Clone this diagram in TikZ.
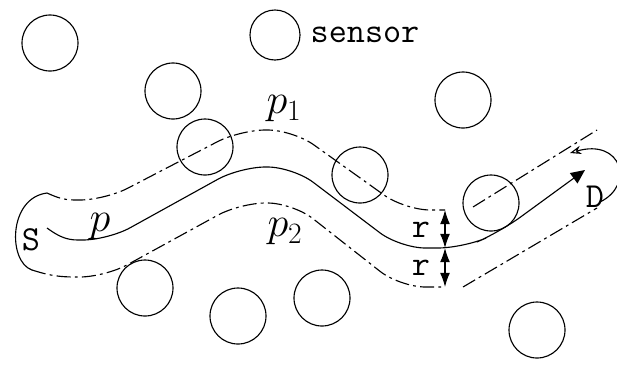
\RequirePackage{fix-cm}
\documentclass[tikz,border=0pt]{standalone}
\usetikzlibrary{arrows.meta}

\begin{document}
\begin{tikzpicture}[
    x=0.025cm, y=-0.025cm,
    sensor/.style={draw, circle, thick, minimum size=1.4cm, inner sep=0pt},
    route/.style={thick},
    bound/.style={route, dash pattern=on 10pt off 3pt on 2pt off 3pt},
    dim/.style={thick, {Latex[length=10pt,width=7pt]}-{Latex[length=10pt,width=7pt]}},
    tlabel/.style={font=\fontsize{25}{27}\selectfont\ttfamily, inner sep=1pt},
    mlabel/.style={font=\fontsize{30}{32}\selectfont, inner sep=1pt}
]
\useasboundingbox (0,0) rectangle (617,364);

% sensors
\node[sensor] (s1) at (50,43) {};
\node[sensor, minimum size=1.25cm] (s2) at (275,35) {};
\node[sensor] (s3) at (173,91) {};
\node[sensor] (s4) at (463,100) {};
\node[sensor] (s5) at (205,147) {};
\node[sensor] (s6) at (360,175) {};
\node[sensor] (s7) at (491,203) {};
\node[sensor] (s8) at (145,288) {};
\node[sensor] (s9) at (238,316) {};
\node[sensor] (s10) at (322,298) {};
\node[sensor] (s11) at (537,330) {};
\node[tlabel, right=6pt] (sensorlbl) at (s2.east) {sensor};

% labels
\node[tlabel] (src) at (31,240) {S};
\node[tlabel] (dst) at (595,197) {D};
\node[mlabel] (plbl) at (100,227) {$p$};
\node[mlabel] (p1lbl) at (284,109) {$p_1$};
\node[mlabel] (p2lbl) at (285,232) {$p_2$};

% path p
\draw[route, -{Triangle[length=10pt,width=9pt]}] (47,228) .. controls (58,236) and (66,240) .. (78,240)
    [rounded corners=18pt] -- (108,240) -- (240,167) -- (293,167) -- (400,248) -- (463,248)
    -- (500,232) -- (585,170);

% paths p1 and p2
\draw[bound] (47,193) .. controls (56,197) and (63,200) .. (75,200)
    [rounded corners=18pt] -- (105,200) -- (240,130) -- (293,130) -- (405,210) -- (445,210);
\draw[bound] (473,207) -- (597,130);
\draw[bound] (32,270) .. controls (45,274) and (55,277) .. (75,277)
    [rounded corners=18pt] -- (105,277) -- (240,203) -- (293,203) -- (400,287) -- (445,287);
\draw[bound] (463,287) -- (597,208);

% ends round S and D
\draw[thick] (47,193) .. controls (8,198) and (8,262) .. (32,270);
\draw[thick, -{Stealth[open,length=8pt]}] (600,202) .. controls (635,185) and (622,138) .. (570,153);

% width r
\coordinate (dtop) at (445,210);
\coordinate (dmid) at (445,248);
\coordinate (dbot) at (445,287);
\draw[dim] (dtop) -- (dmid);
\draw[dim] (dmid) -- (dbot);
\node[tlabel] (r1) at (421,230) {r};
\node[tlabel] (r2) at (421,268) {r};

\end{tikzpicture}
\end{document}
